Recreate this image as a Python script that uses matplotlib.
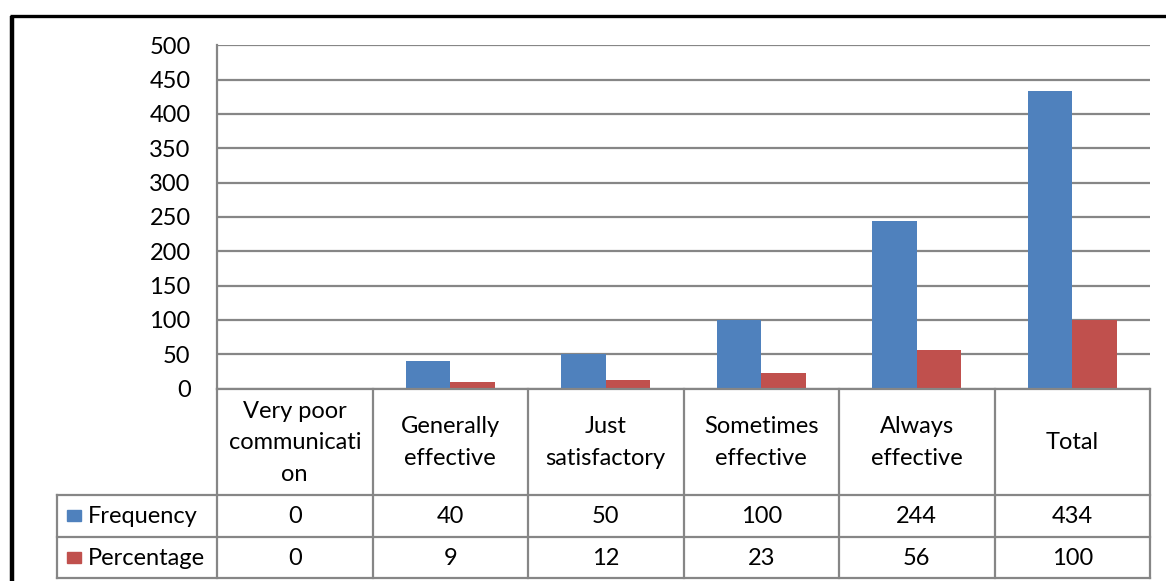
import matplotlib
matplotlib.use("Agg")
from matplotlib import pyplot as plt
import numpy as np

plt.rcParams['font.family'] = ['Lato', 'DejaVu Sans']

# data
categories = ['Very poor\ncommunicati\non', 'Generally\neffective', 'Just\nsatisfactory',
              'Sometimes\neffective', 'Always\neffective', 'Total']
frequency = [0, 40, 50, 100, 244, 434]
percentage = [0, 9, 12, 23, 56, 100]
series_names = ['Frequency', 'Percentage']
colors = ['#4F81BD', '#C0504D']
yticks = [0, 50, 100, 150, 200, 250, 300, 350, 400, 450, 500]

W, H = 1166, 581
fig = plt.figure(figsize=(W / 100, H / 100), dpi=100)

# pixel layout
pl, pr, pt, pb = 217, 1150, 45.3, 388.5
leg_left = 57
row_hdr, row_f, row_p = 495, 536.7, 578.3
grid_col = '#868686'
fs = 17

ax = fig.add_axes([pl / W, 1 - pb / H, (pr - pl) / W, (pb - pt) / H])
x = np.arange(len(categories))
bw = 0.285
ax.bar(x - bw / 2, frequency, bw, color=colors[0], zorder=3)
ax.bar(x + bw / 2, percentage, bw, color=colors[1], zorder=3)
ax.set_xlim(-0.5, len(categories) - 0.5)
ax.set_ylim(0, 500)
ax.set_yticks(yticks)
ax.set_yticklabels([str(v) for v in yticks], fontsize=fs)
ax.set_xticks([])
ax.tick_params(axis='y', length=0, pad=19)
ax.yaxis.grid(True, color=grid_col, linewidth=1.6, zorder=0)
for s in ['top', 'right', 'bottom']:
    ax.spines[s].set_visible(False)
ax.spines['left'].set_color(grid_col)
ax.spines['left'].set_linewidth(1.6)

# overlay in pixel coordinates for border and data table
ov = fig.add_axes([0, 0, 1, 1])
ov.set_xlim(0, W)
ov.set_ylim(H, 0)
ov.axis('off')
ov.patch.set_alpha(0)

# outer frame (top and left)
ov.plot([10, W], [16, 16], color='black', linewidth=2.4, solid_capstyle='butt')
ov.plot([12, 12], [16, H], color='black', linewidth=3.2, solid_capstyle='butt')

n = len(categories)
cw = (pr - pl) / n
lc = dict(color=grid_col, linewidth=1.6, solid_capstyle='projecting')
# horizontal table lines
ov.plot([pl, pr], [pb, pb], **lc)
for yy in [row_hdr, row_f, row_p]:
    ov.plot([leg_left, pr], [yy, yy], **lc)
# vertical table lines
ov.plot([leg_left, leg_left], [row_hdr, row_p], **lc)
for i in range(n + 1):
    xx = pl + i * cw
    ov.plot([xx, xx], [pb, row_p], **lc)

for i, cat in enumerate(categories):
    cx = pl + (i + 0.5) * cw
    ov.text(cx, (pb + row_hdr) / 2 + 1, cat, ha='center', va='center',
            fontsize=fs, linespacing=1.62)
    ov.text(cx, (row_hdr + row_f) / 2 + 1, str(frequency[i]), ha='center',
            va='center', fontsize=fs)
    ov.text(cx, (row_f + row_p) / 2 + 1, str(percentage[i]), ha='center',
            va='center', fontsize=fs)

for j, (name, c, y0, y1) in enumerate(zip(series_names, colors,
                                           [row_hdr, row_f], [row_f, row_p])):
    ym = (y0 + y1) / 2
    ov.add_patch(plt.Rectangle((67, ym - 5.5), 14, 11, color=c))
    ov.text(88, ym + 1, name, ha='left', va='center', fontsize=fs)

fig.savefig('out.png', dpi=100)
